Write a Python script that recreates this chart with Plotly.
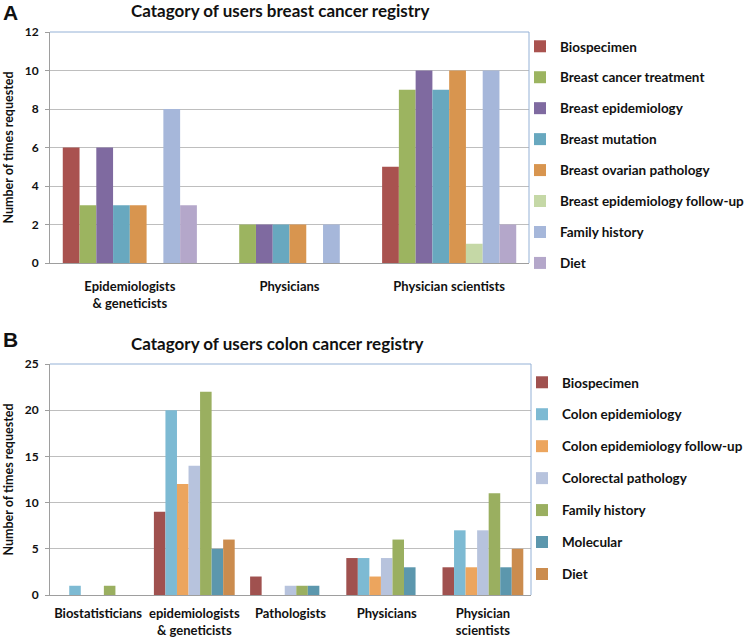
import plotly.graph_objects as go

W, H = 747, 643

# ---- Data: panel A (breast cancer registry)
cats_a = ["Epidemiologists<br>& geneticists", "Physicians", "Physician scientists"]
series_a = ["Biospecimen", "Breast cancer treatment", "Breast epidemiology", "Breast mutation",
            "Breast ovarian pathology", "Breast epidemiology follow-up", "Family history", "Diet"]
biospecimen_a = [6, 0, 5]
treatment_a = [3, 2, 9]
epidemiology_a = [6, 2, 10]
mutation_a = [3, 2, 9]
ovarian_a = [3, 2, 10]
followup_a = [0, 0, 1]
family_a = [8, 2, 10]
diet_a = [3, 0, 2]
values_a = [biospecimen_a, treatment_a, epidemiology_a, mutation_a, ovarian_a, followup_a, family_a, diet_a]
colors_a = ["#A9524F", "#9CB460", "#7F6AA0", "#68A8BF", "#D8954F", "#C5D8A6", "#A6B7DA", "#B4A7CA"]

# ---- Data: panel B (colon cancer registry)
cats_b = ["Biostatisticians", "epidemiologists<br>& geneticists", "Pathologists", "Physicians", "Physician<br>scientists"]
series_b = ["Biospecimen", "Colon epidemiology", "Colon epidemiology follow-up", "Colorectal pathology",
            "Family history", "Molecular", "Diet"]
biospecimen_b = [0, 9, 2, 4, 3]
colon_epi_b = [1, 20, 0, 4, 7]
followup_b = [0, 12, 0, 2, 3]
pathology_b = [0, 14, 1, 4, 7]
family_b = [1, 22, 1, 6, 11]
molecular_b = [0, 5, 1, 3, 3]
diet_b = [0, 6, 0, 0, 5]
values_b = [biospecimen_b, colon_epi_b, followup_b, pathology_b, family_b, molecular_b, diet_b]
colors_b = ["#A0514F", "#7DBAD3", "#ECA55E", "#B7C3DD", "#9AAF60", "#5C97AD", "#CB8C4E"]

FONT = "Lato"
fig = go.Figure()

for name, vals, col in zip(series_a, values_a, colors_a):
    fig.add_trace(go.Bar(x=cats_a, y=vals, name="<b>" + name + "</b>",
                         marker=dict(color=col, line=dict(width=0)),
                         xaxis="x", yaxis="y", legend="legend", legendgroup="a_" + name))
for name, vals, col in zip(series_b, values_b, colors_b):
    fig.add_trace(go.Bar(x=cats_b, y=vals, name="<b>" + name + "</b>",
                         marker=dict(color=col, line=dict(width=0)),
                         xaxis="x2", yaxis="y2", legend="legend2", legendgroup="b_" + name))

def px(x):
    return x / W

def py(y):
    return 1 - y / H

grid = "#BEBEBE"
axcol = "#9E9E9E"
frame = "#94B1D6"
tickfont = dict(family=FONT, size=12, color="#111111")
xtickfont = dict(family=FONT, size=13, color="#111111")
ytitle = dict(text="<b>Number of times requested</b>", font=dict(family=FONT, size=12.5), standoff=8)
legfont = dict(family=FONT, size=13.5, color="#111111")

fig.update_layout(
    width=W, height=H, margin=dict(l=0, r=0, t=0, b=0, autoexpand=False),
    paper_bgcolor="white", plot_bgcolor="white",
    barmode="group", bargap=0.16, bargroupgap=0,
    font=dict(family=FONT, color="#111111"),
    xaxis=dict(domain=[px(50), px(529)], anchor="y", showline=True, linecolor=axcol, linewidth=1,
               ticks="", tickfont=xtickfont, ticklabelstandoff=11, showgrid=False, automargin=False),
    yaxis=dict(domain=[py(263), py(32)], anchor="x", range=[0, 12], dtick=2, showline=True,
               linecolor=axcol, linewidth=1, ticks="outside", ticklen=4, tickcolor=axcol,
               showgrid=True, gridcolor=grid, gridwidth=1, zeroline=False, tickfont=tickfont,
               ticklabelstandoff=4, automargin=False, title=ytitle),
    xaxis2=dict(domain=[px(50), px(531)], anchor="y2", showline=True, linecolor=axcol, linewidth=1,
                ticks="", tickfont=xtickfont, ticklabelstandoff=6, showgrid=False, automargin=False),
    yaxis2=dict(domain=[py(595), py(364)], anchor="x2", range=[0, 25], dtick=5, showline=True,
                linecolor=axcol, linewidth=1, ticks="outside", ticklen=4, tickcolor=axcol,
                showgrid=True, gridcolor=grid, gridwidth=1, zeroline=False, tickfont=tickfont,
                ticklabelstandoff=4, automargin=False, title=ytitle),
    legend=dict(x=px(520), y=py(31), xanchor="left", yanchor="top", tracegroupgap=10.4,
                font=legfont, bgcolor="rgba(0,0,0,0)"),
    legend2=dict(x=px(522), y=py(367), xanchor="left", yanchor="top", tracegroupgap=11.4,
                 font=legfont, bgcolor="rgba(0,0,0,0)"),
)

# bold tick labels
fig.update_xaxes(tickprefix="<b>", ticksuffix="</b>")
fig.update_yaxes(tickprefix="<b>", ticksuffix="</b>")

# blue top/right frame lines
for xr, yr in (("x", "y"), ("x2", "y2")):
    fig.add_shape(type="line", xref=xr + " domain", yref=yr + " domain", x0=0, x1=1, y0=1, y1=1,
                  line=dict(color=frame, width=1))
    fig.add_shape(type="line", xref=xr + " domain", yref=yr + " domain", x0=1, x1=1, y0=0, y1=1,
                  line=dict(color=frame, width=1))

# titles and panel letters
ann = dict(xref="paper", yref="paper", showarrow=False, xanchor="center", yanchor="middle")
fig.add_annotation(text="<b>Catagory of users breast cancer registry</b>", x=px(280), y=py(10),
                   font=dict(family=FONT, size=17), **ann)
fig.add_annotation(text="<b>Catagory of users colon cancer registry</b>", x=px(277), y=py(343),
                   font=dict(family=FONT, size=17), **ann)
fig.add_annotation(text="<b>A</b>", x=px(10), y=py(12), font=dict(family="Liberation Sans", size=21), **ann)
fig.add_annotation(text="<b>B</b>", x=px(10), y=py(339), font=dict(family="Liberation Sans", size=21), **ann)

fig.write_html("out.html", config={"displayModeBar": False},
               post_script="document.body.style.margin='0';document.body.style.padding='0';")
